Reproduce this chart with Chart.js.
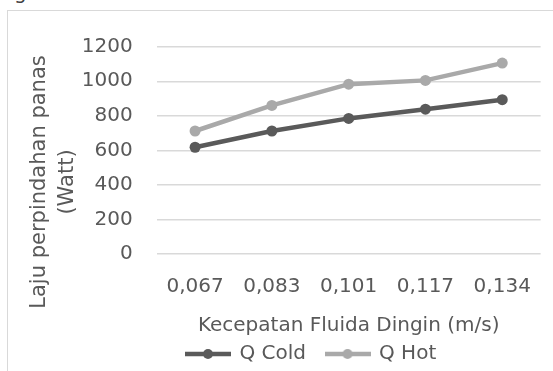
<!DOCTYPE html>
<html>
<head>
<meta charset="utf-8">
<script src="https://cdn.jsdelivr.net/npm/chart.js@4.4.1/dist/chart.umd.min.js"></script>
<style>
  html, body { margin: 0; padding: 0; background: #ffffff; }
  body { width: 553px; height: 371px; position: relative; overflow: hidden; font-family: "DejaVu Sans", sans-serif; }
  #above { position: absolute; left: 14px; top: -18px; font-size: 20px; line-height: 20px; color: #404040; }
  #frame { position: absolute; left: 7px; top: 10px; width: 620px; height: 430px; border: 1px solid #d9d9d9; box-sizing: border-box; }
  #wrap { position: absolute; left: 0; top: 0; width: 553px; height: 371px; }
  canvas { display: block; }
</style>
</head>
<body>
<div id="above">g</div>
<div id="frame"></div>
<div id="wrap"><canvas id="chart" width="553" height="371" style="width:553px;height:371px"></canvas></div>
<script>
// Flow velocity of the cold fluid (m/s) and heat transfer rate (Watt)
const categories = ['0,067', '0,083', '0,101', '0,117', '0,134'];
const qCold = [618, 712, 785, 838, 893];
const qHot = [712, 860, 983, 1005, 1105];
const yTicks = [0, 200, 400, 600, 800, 1000, 1200];
const seriesNames = ['Q Cold', 'Q Hot'];
const xTitle = 'Kecepatan Fluida Dingin (m/s)';
const yTitleLines = ['Laju perpindahan panas', '(Watt)'];

const TEXT = '#595959';
const COLD = '#5a5a5a';
const HOT = '#a9a9a9';
const FONT = { family: '"DejaVu Sans", sans-serif', size: 20 };

// legend key: a short line with a dot in the middle
function lineMarker(color) {
  const c = document.createElement('canvas');
  c.width = 46; c.height = 12;
  const g = c.getContext('2d');
  g.strokeStyle = color; g.lineWidth = 4.5;
  g.beginPath(); g.moveTo(0, 6); g.lineTo(46, 6); g.stroke();
  g.fillStyle = color;
  g.beginPath(); g.arc(23, 6, 5, 0, Math.PI * 2); g.fill();
  return c;
}
const markers = [lineMarker(COLD), lineMarker(HOT)];

// two-line rotated title for the value axis
const yTitlePlugin = {
  id: 'yTitle',
  afterDraw(chart) {
    const ctx = chart.ctx;
    const xs = [40, 68];
    ctx.save();
    ctx.fillStyle = TEXT;
    ctx.font = '21px "DejaVu Sans", sans-serif';
    ctx.textAlign = 'center';
    ctx.textBaseline = 'middle';
    yTitleLines.forEach((t, i) => {
      ctx.save();
      ctx.translate(xs[i], 182);
      ctx.rotate(-Math.PI / 2);
      ctx.fillText(t, 0, 0);
      ctx.restore();
    });
    ctx.restore();
  }
};

new Chart(document.getElementById('chart'), {
  type: 'line',
  data: {
    labels: categories,
    datasets: [
      { label: seriesNames[0], data: qCold, borderColor: COLD, backgroundColor: COLD,
        pointBackgroundColor: COLD, borderWidth: 4.5, pointRadius: 5.5, pointBorderWidth: 0, tension: 0 },
      { label: seriesNames[1], data: qHot, borderColor: HOT, backgroundColor: HOT,
        pointBackgroundColor: HOT, borderWidth: 4.5, pointRadius: 5.5, pointBorderWidth: 0, tension: 0 }
    ]
  },
  options: {
    responsive: false,
    animation: false,
    devicePixelRatio: 1,
    layout: { padding: { left: 81, right: 11.3, top: 46.7, bottom: -3 } },
    plugins: {
      tooltip: { enabled: false },
      title: { display: false },
      legend: {
        position: 'bottom',
        labels: {
          usePointStyle: true,
          pointStyleWidth: 43,
          padding: 20,
          color: TEXT,
          font: FONT,
          generateLabels(chart) {
            return Chart.defaults.plugins.legend.labels.generateLabels(chart)
              .map((item, i) => Object.assign(item, { pointStyle: markers[i] }));
          }
        }
      }
    },
    scales: {
      x: {
        type: 'category',
        offset: true,
        grid: { display: false, drawTicks: false },
        border: { display: false },
        ticks: { color: TEXT, font: FONT, padding: 21, maxRotation: 0, autoSkip: false },
        title: { display: true, text: xTitle, color: TEXT, font: FONT, padding: { top: 0, bottom: -14 } },
        afterFit(scale) { scale.height = 70; }
      },
      y: {
        min: 0,
        max: 1200,
        grid: { color: '#d9d9d9', lineWidth: 1.5, drawTicks: false },
        border: { display: false },
        ticks: { color: TEXT, font: FONT, padding: 24, callback: (v) => String(v) },
        afterBuildTicks(scale) { scale.ticks = yTicks.map(v => ({ value: v })); },
        afterFit(scale) { scale.width = 75.7; }
      }
    }
  },
  plugins: [yTitlePlugin]
});
</script>
</body>
</html>
